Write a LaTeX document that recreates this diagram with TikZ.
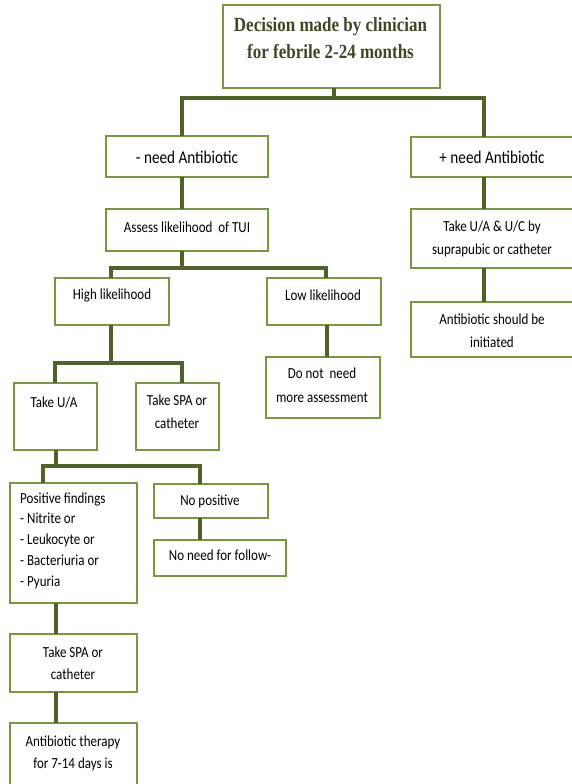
\documentclass[tikz,border=0pt]{standalone}
\usepackage{fontspec}
\setmainfont{Carlito}
\newfontfamily\titlefont{Liberation Serif}
\definecolor{bord}{RGB}{122,150,62}
\definecolor{connc}{RGB}{79,98,40}
\definecolor{ttl}{RGB}{62,72,36}
\newcommand{\mybox}[5]{\node[box,minimum width={(#4-#2)*1pt},minimum height={(#5-#3)*1pt}] (#1) at ({(#2+#4)/2},{(#3+#5)/2}) {};}
\begin{document}
\begin{tikzpicture}[x=1pt,y=-1pt,
 box/.style={draw=bord,line width=2.8pt,fill=white,inner sep=0pt,outer sep=0pt},
 connector/.style={draw=connc,line width=3.2pt},
 txt/.style={font=\fontsize{13}{18.6}\selectfont,align=center,inner sep=0pt,text=black,yscale=1.18,transform shape},
 ttltxt/.style={font=\titlefont\bfseries\fontsize{17}{22.9}\selectfont,align=center,inner sep=0pt,text=ttl,yscale=1.18,transform shape},
]
\useasboundingbox[fill=white] (0,0) rectangle (571,784);
% boxes
\mybox{top}{223}{5}{440}{88}
\mybox{neg}{106}{136}{268}{177}
\mybox{pos}{411}{137}{574}{177}
\mybox{assess}{106}{209}{268}{251}
\mybox{tuauc}{411}{209}{574}{268}
\mybox{abinit}{411}{302}{574}{357}
\mybox{high}{55}{278}{169}{325}
\mybox{low}{267}{278}{381}{325}
\mybox{donot}{266}{357}{380}{418}
\mybox{tua}{14}{383}{97}{450}
\mybox{tspa}{136}{383}{219}{450}
\mybox{posf}{10}{483}{137}{603}
\mybox{nopos}{154}{484}{268}{518}
\mybox{nofollow}{154}{540}{286}{576}
\mybox{tspab}{10}{634}{137}{692}
\mybox{abther}{10}{723}{137}{792}
% connectors
\draw[connector] (top.south -| 334,0) -- (334,98);
\draw[connector] (neg.north -| 182,0) -- (182,98) -- (484,98) -- (pos.north -| 484,0);
\draw[connector] (neg.south -| 182,0) -- (assess.north -| 182,0);
\draw[connector] (pos.south -| 484,0) -- (tuauc.north -| 484,0);
\draw[connector] (tuauc.south -| 484,0) -- (abinit.north -| 484,0);
\draw[connector] (assess.south -| 182,0) -- (182,268);
\draw[connector] (high.north -| 111,0) -- (111,268) -- (326,268) -- (low.north -| 326,0);
\draw[connector] (high.south -| 111,0) -- (111,363);
\draw[connector] (tua.north -| 55,0) -- (55,363) -- (182,363) -- (tspa.north -| 182,0);
\draw[connector] (low.south -| 327,0) -- (donot.north -| 327,0);
\draw[connector] (tua.south -| 56,0) -- (56,466);
\draw[connector] (posf.north -| 43,0) -- (43,466) -- (200,466) -- (nopos.north -| 200,0);
\draw[connector] (nopos.south -| 200,0) -- (nofollow.north -| 200,0);
\draw[connector] (posf.south -| 56,0) -- (tspab.north -| 56,0);
\draw[connector] (tspab.south -| 56,0) -- (abther.north -| 56,0);
% texts
\node[ttltxt] (t0) at (330.5,38.5) {Decision made by clinician\\for febrile 2-24 months};
\node[txt,font=\fontsize{15.2}{18.6}\selectfont] (t1) at (187,157) {- need Antibiotic};
\node[txt,font=\fontsize{15.2}{18.6}\selectfont] (t2) at (492,157) {+ need Antibiotic};
\node[txt] (t3) at (187,227) {Assess likelihood\ \ of TUI};
\node[txt,font=\fontsize{13}{19.5}\selectfont] (t4) at (492,238.5) {Take U/A \& U/C by\\suprapubic or catheter};
\node[txt,font=\fontsize{13}{19.5}\selectfont] (t5) at (492,330.5) {Antibiotic should be\\initiated};
\node[txt] (t6) at (112,295) {High likelihood};
\node[txt] (t7) at (323,295) {Low likelihood};
\node[txt,font=\fontsize{13}{20.3}\selectfont] (t8) at (322,385) {Do not\ \ need\\more assessment};
\node[txt] (t9) at (54,402) {Take U/A};
\node[txt,font=\fontsize{13}{19.5}\selectfont] (t10) at (177,411.5) {Take SPA or\\catheter};
\node[txt,align=left,anchor=west,font=\fontsize{13}{17.6}\selectfont] (t11) at (20,540.5) {Positive findings\\- Nitrite or\\- Leukocyte or\\- Bacteriuria or\\- Pyuria};
\node[txt] (t12) at (210,501) {No positive};
\node[txt] (t13) at (220,555) {No need for follow-};
\node[txt] (t14) at (73,663) {Take SPA or\\catheter};
\node[txt] (t15) at (73,753) {Antibiotic therapy\\for 7-14 days is};
\end{tikzpicture}
\end{document}
